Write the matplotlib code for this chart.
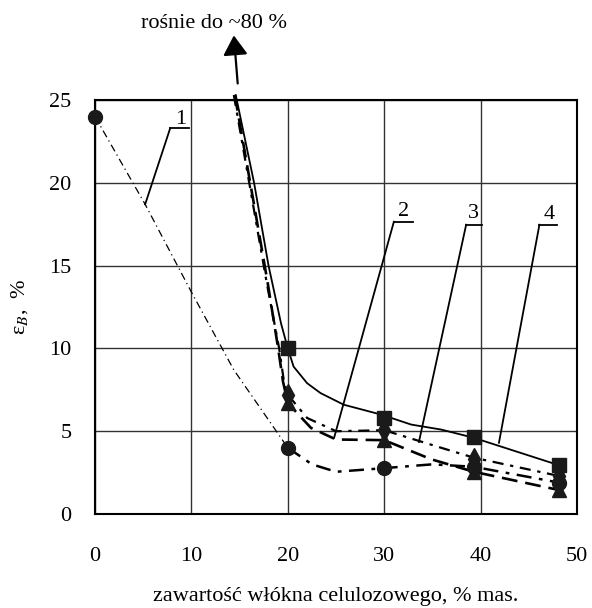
import matplotlib
matplotlib.use("Agg")
import matplotlib.pyplot as plt

plt.rcParams['font.family'] = ['Liberation Serif', 'DejaVu Serif']
plt.rcParams['mathtext.fontset'] = 'stix'

# curve 1 (circles)
x1_line = [0, 5.2, 10, 14.4, 20]
y1_line = [24.0, 18.7, 13.4, 8.7, 4.0]
x1_line_b = [20, 22.5, 25, 30, 35, 39.3, 48.1]
y1_line_b = [4.0, 3.0, 2.55, 2.77, 3.0, 2.85, 1.9]
x1_pts = [0, 20, 30, 39.3, 48.1]
y1_pts = [24.0, 4.0, 2.77, 2.85, 1.9]

# curve 2 (triangles)
x2_line = [14.5, 16.4, 17.9, 19.0, 19.5, 20, 22.4, 25, 30, 34.9, 39.3, 48.1]
y2_line = [25.3, 19, 14, 10, 8, 6.7, 5.2, 4.5, 4.46, 3.3, 2.55, 1.45]
x2_pts = [20, 30, 39.3, 48.1]
y2_pts = [6.7, 4.46, 2.55, 1.45]

# curve 3 (diamonds)
x3_line = [14.4, 16.3, 17.8, 19.1, 19.6, 20, 22, 25, 30, 35.9, 39.3, 48.1]
y3_line = [25.3, 19, 14, 10, 8, 7.2, 5.8, 5.0, 5.06, 4.0, 3.4, 2.3]
x3_pts = [20, 30, 39.3, 48.1]
y3_pts = [7.2, 5.06, 3.3, 2.3]

# curve 4 (squares)
x4_line = [14.6, 16.5, 18.0, 19.3, 20.0, 20.6, 22.0, 23.4, 25.8, 29.7, 32.8, 35.9, 39.3, 48.1]
y4_line = [25.3, 20.0, 15.0, 11.5, 10.0, 8.9, 7.9, 7.3, 6.6, 6.0, 5.4, 5.1, 4.6, 2.95]
x4_pts = [20, 30, 39.3, 48.1]
y4_pts = [10.05, 5.8, 4.64, 2.95]

# leader lines: label, text pos, shelf end, curve point
labels = ['1', '2', '3', '4']
label_xy = [(8.85, 23.55), (32.0, 18.0), (39.3, 17.9), (47.1, 17.8)]
shelf_x = [(7.8, 9.7), (31.0, 33.0), (38.5, 40.1), (46.1, 47.9)]
shelf_y = [23.3, 17.65, 17.47, 17.47]
leader_end = [(5.2, 18.7), (24.8, 4.6), (33.6, 4.35), (41.9, 4.3)]

fig = plt.figure(figsize=(5.92, 6.08), dpi=100)
ax = fig.add_axes([0.1605, 0.1546, 0.8142, 0.6809])

ax.set_xlim(0, 50)
ax.set_ylim(0, 25)
ax.set_xticks([0, 10, 20, 30, 40, 50])
ax.set_yticks([0, 5, 10, 15, 20, 25])
ax.grid(True, color='#333333', lw=1.0)
ax.set_axisbelow(True)
ax.tick_params(length=0, labelsize=16)
ax.tick_params(axis='x', pad=24)
ax.tick_params(axis='y', pad=17)
for s in ax.spines.values():
    s.set_linewidth(1.5)

# lines
ax.plot(x1_line, y1_line, color='black', lw=0.9, dashes=(6, 3, 1, 3), clip_on=False)
ax.plot(x1_line_b, y1_line_b, color='black', lw=1.8, dashes=(6, 3, 1.5, 3), clip_on=False)
ax.plot(x2_line, y2_line, color='black', lw=1.9, dashes=(6, 3), clip_on=False)
ax.plot(x3_line, y3_line, color='black', lw=1.6, dashes=(5, 3, 1.5, 3), clip_on=False)
ax.plot(x4_line, y4_line, color='black', lw=1.3, clip_on=False)

# markers
ax.plot(x1_pts, y1_pts, 'o', color='#1a1a1a', ms=10, clip_on=False, zorder=5)
ax.plot(x2_pts, y2_pts, '^', color='#1a1a1a', ms=10, clip_on=False, zorder=5)
ax.plot(x3_pts, y3_pts, 'd', color='#1a1a1a', ms=11, clip_on=False, zorder=5)
ax.plot(x4_pts, y4_pts, 's', color='#1a1a1a', ms=10, clip_on=False, zorder=5)

# curve labels with leader lines
for lab, (tx, ty), (sx0, sx1), sy, (ex, ey) in zip(labels, label_xy, shelf_x, shelf_y, leader_end):
    ax.plot([sx0, sx1], [sy, sy], color='black', lw=1.3, clip_on=False, zorder=6)
    ax.plot([sx0, ex], [sy, ey], color='black', lw=1.3, clip_on=False, zorder=6)
    ax.text(tx, ty, lab, ha='center', va='baseline', fontsize=16, zorder=6)

# arrow up
ax.annotate('', xy=(14.4, 28.9), xytext=(14.8, 26.0),
            arrowprops=dict(arrowstyle='-|>,head_length=1.2,head_width=0.75',
                            color='black', lw=1.6, shrinkA=0, shrinkB=0),
            annotation_clip=False)
ax.text(12.3, 29.6, 'rośnie do ~80 %', ha='center', va='center', fontsize=16)

ax.set_xlabel('zawartość włókna celulozowego, % mas.', fontsize=16, labelpad=15)
ax.set_ylabel('ε$_{B}$,  %', fontsize=16, labelpad=14)

fig.savefig('out.png', dpi=100)
